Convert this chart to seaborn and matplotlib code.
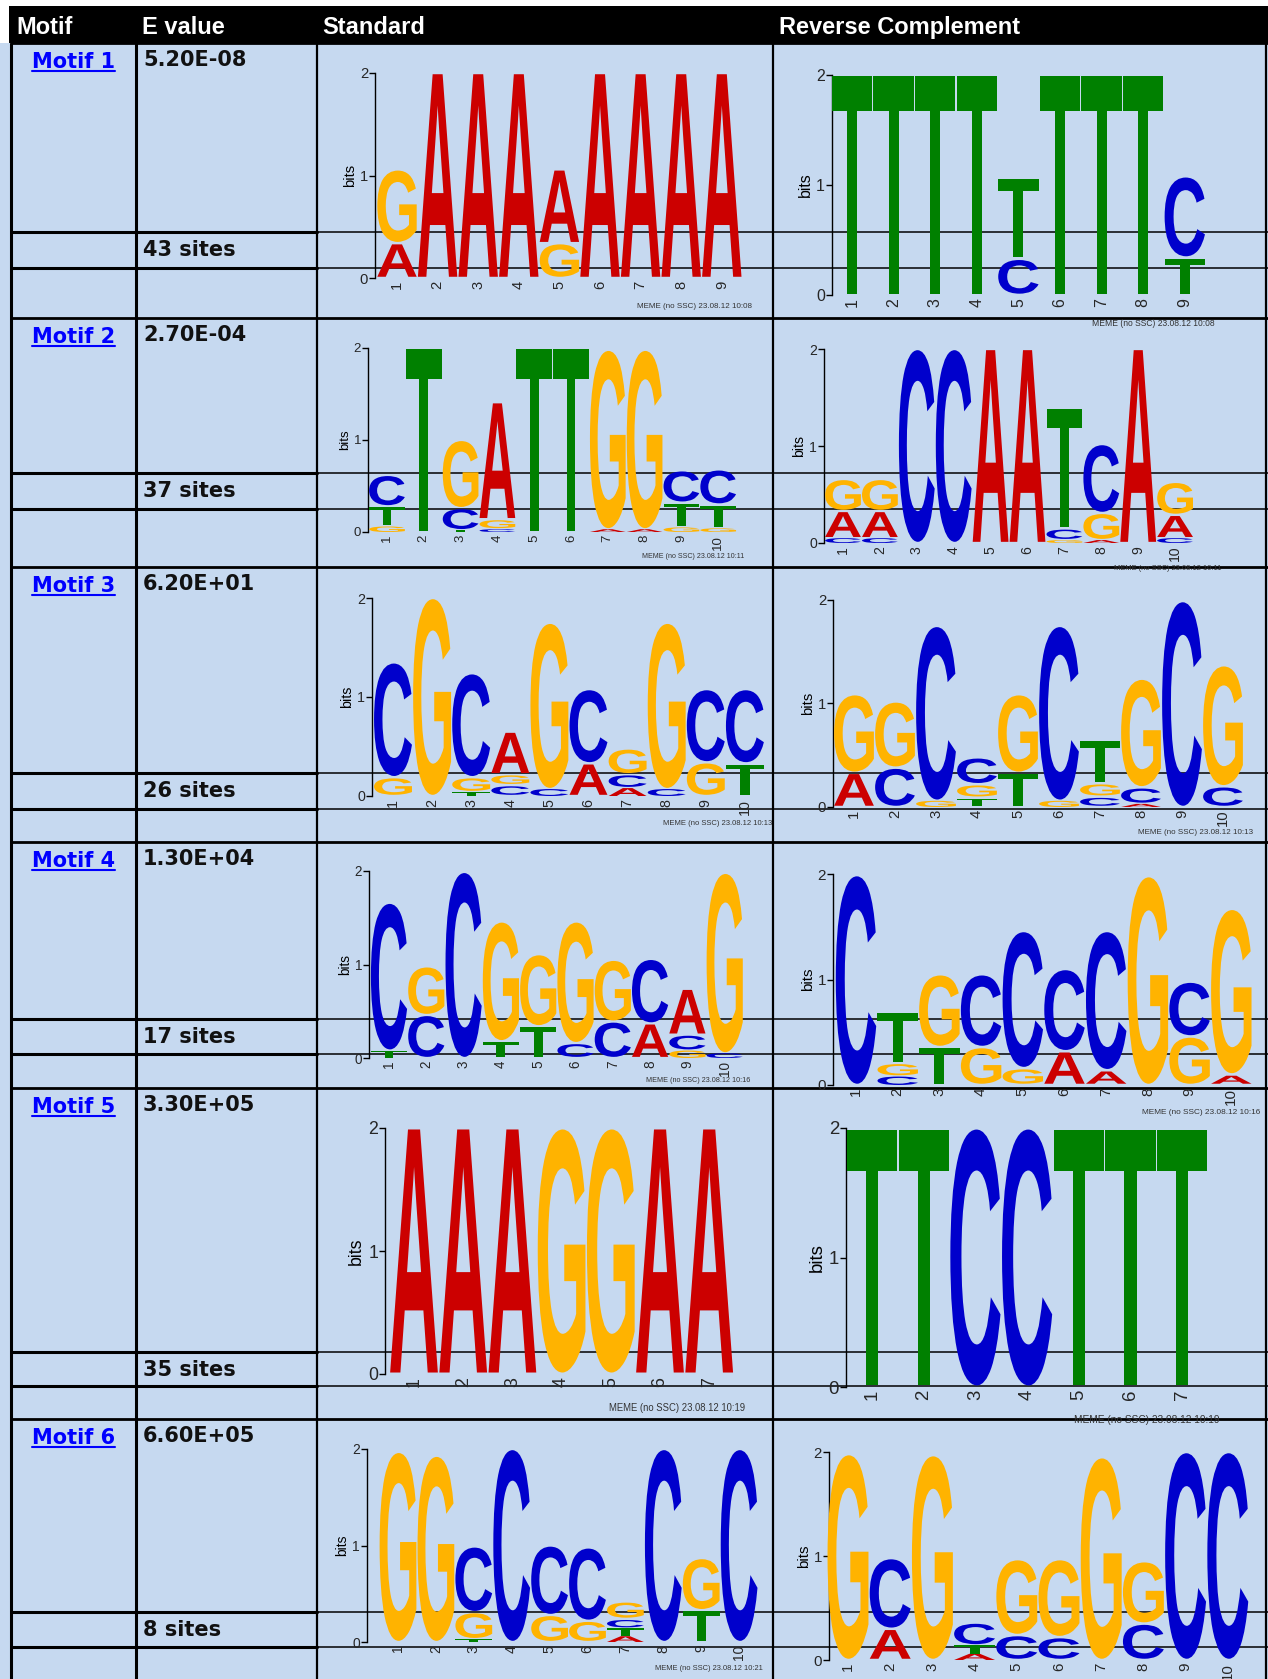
import matplotlib
matplotlib.use('Agg')
import numpy as np
import pandas as pd
import matplotlib.pyplot as plt
import seaborn as sns
import matplotlib.transforms as mtransforms
from matplotlib.textpath import TextPath
from matplotlib.patches import PathPatch, Rectangle
from matplotlib.font_manager import FontProperties

sns.set_theme(style='ticks')
plt.rcParams['font.family'] = ['Liberation Sans', 'DejaVu Sans']

# ---- table content ----
header_labels = ['Motif', 'E value', 'Standard', 'Reverse Complement']
motif_names = ['Motif 1', 'Motif 2', 'Motif 3', 'Motif 4', 'Motif 5', 'Motif 6']
e_values = ['5.20E-08', '2.70E-04', '6.20E+01', '1.30E+04', '3.30E+05', '6.60E+05']
site_counts = [43, 37, 26, 17, 35, 8]
run_times = ['10:08', '10:11', '10:13', '10:16', '10:19', '10:21']

# ---- logo stacks, bottom to top: (letter, bits) ----
m1_std = [[('A', .34), ('G', .72)], [('A', 2.0)], [('A', 2.0)], [('A', 2.0)],
          [('G', .34), ('A', .72)], [('A', 2.0)], [('A', 2.0)], [('A', 2.0)], [('A', 2.0)]]
m1_rc = [[('T', 2.0)], [('T', 2.0)], [('T', 2.0)], [('T', 2.0)], [('C', .33), ('T', .74)],
         [('T', 2.0)], [('T', 2.0)], [('T', 2.0)], [('T', .34), ('C', .74)]]

m2_std = [[('G', .06), ('T', .22), ('C', .34)], [('T', 2.0)], [('T', .02), ('C', .24), ('G', .74)],
          [('C', .03), ('G', .11), ('A', 1.27)], [('T', 2.0)], [('T', 2.0)],
          [('A', .03), ('G', 1.95)], [('A', .03), ('G', 1.95)],
          [('G', .05), ('T', .27), ('C', .35)], [('G', .04), ('T', .26), ('C', .38)]]
m2_rc = [[('C', .05), ('A', .28), ('G', .33)], [('C', .05), ('A', .28), ('G', .33)],
         [('C', 2.0)], [('C', 2.0)], [('A', 2.0)], [('A', 2.0)],
         [('G', .03), ('C', .12), ('T', 1.24)], [('A', .03), ('G', .28), ('C', .71)],
         [('A', 2.0)], [('C', .05), ('A', .24), ('G', .34)]]

m3_std = [[('G', .19), ('C', 1.16)], [('G', 2.0)], [('T', .04), ('G', .15), ('C', 1.05)],
          [('C', .11), ('G', .11), ('A', .43)], [('C', .07), ('G', 1.68)], [('A', .33), ('C', .75)],
          [('A', .08), ('C', .14), ('G', .26)], [('C', .07), ('G', 1.68)],
          [('G', .34), ('C', .74)], [('T', .33), ('C', .75)]]
m3_rc = [[('A', .33), ('G', .76)], [('C', .38), ('G', .64)], [('G', .06), ('C', 1.69)],
         [('T', .09), ('G', .13), ('C', .26)], [('T', .33), ('G', .76)], [('G', .06), ('C', 1.69)],
         [('C', .1), ('G', .13), ('T', .42)], [('A', .03), ('C', .16), ('G', 1.05)],
         [('C', 1.99)], [('C', .2), ('G', 1.17)]]

m4_std = [[('T', .08), ('C', 1.58)], [('C', .46), ('G', .52)], [('C', 1.99)],
          [('T', .18), ('G', 1.28)], [('T', .34), ('G', .77)], [('C', .16), ('G', 1.3)],
          [('C', .39), ('G', .66)], [('A', .37), ('C', .69)],
          [('G', .08), ('C', .17), ('A', .49)], [('C', .05), ('G', 1.93)]]
m4_rc = [[('C', 1.99)], [('C', .08), ('G', .13), ('T', .48)], [('T', .36), ('G', .69)],
         [('G', .36), ('C', .69)], [('G', .16), ('C', 1.3)], [('A', .32), ('C', .78)],
         [('A', .14), ('C', 1.32)], [('G', 1.98)], [('G', .46), ('C', .52)],
         [('A', .1), ('G', 1.57)]]

m5_std = [[('A', 2.0)], [('A', 2.0)], [('A', 2.0)], [('G', 2.0)], [('G', 2.0)], [('A', 2.0)], [('A', 2.0)]]
m5_rc = [[('T', 2.0)], [('T', 2.0)], [('C', 2.0)], [('C', 2.0)], [('T', 2.0)], [('T', 2.0)], [('T', 2.0)]]

m6_std = [[('G', 1.97)], [('G', 1.93)], [('T', .03), ('G', .28), ('C', .68)], [('C', 2.0)],
          [('G', .28), ('C', .72)], [('G', .22), ('C', .76)],
          [('A', .06), ('T', .08), ('C', .1), ('G', .18)], [('C', 2.0)],
          [('T', .33), ('G', .54)], [('C', 2.0)]]
m6_rc = [[('G', 1.98)], [('A', .3), ('C', .68)], [('G', 1.97)],
         [('A', .06), ('T', .08), ('C', .22)], [('C', .24), ('G', .73)], [('C', .22), ('G', .75)],
         [('G', 1.95)], [('C', .35), ('G', .6)], [('C', 2.0)], [('C', 2.0)]]

logos = [(m1_std, m1_rc), (m2_std, m2_rc), (m3_std, m3_rc),
         (m4_std, m4_rc), (m5_std, m5_rc), (m6_std, m6_rc)]

rows = []
for k, (std, rc) in enumerate(logos):
    for strand, stacks in (('std', std), ('rc', rc)):
        for pos, stack in enumerate(stacks, start=1):
            base = 0.0
            for letter, bits in stack:
                rows.append(dict(motif=k, strand=strand, position=pos,
                                 letter=letter, bits=bits, bottom=base))
                base += bits
letters = pd.DataFrame(rows)

# ---- layout (pixels) ----
W, H = 1268, 1679
col_x = [11, 136, 317, 773, 1266]
# top, sites-row top, empty-row top, bottom for each motif block
block_y = [(43, 232, 268, 318), (318, 473, 509, 567), (567, 773, 809, 842),
           (842, 1019, 1054, 1088), (1088, 1352, 1386, 1419), (1419, 1612, 1647, 1679)]
# y-axis x, first column centre, column spacing, y of 0 bits, y of 2 bits, MEME stamp x/y
std_layout = [(375, 397, 40.6, 278, 73, 752, 307), (368, 387, 36.8, 532, 348, 744, 557),
              (372, 393, 39.1, 796, 598, 772, 823), (369, 389, 37.3, 1058, 871, 750, 1081),
              (385, 414, 49.2, 1374, 1128, 745, 1408), (367, 398, 37.9, 1642, 1449, 763, 1669)]
rc_layout = [(832, 852, 41.6, 295, 75, 1215, 323), (824, 843, 36.9, 543, 349, 1221, 568),
             (833, 854, 41.0, 807, 600, 1253, 833), (833, 856, 41.7, 1085, 874, 1260, 1113),
             (846, 872, 51.7, 1387, 1128, 1220, 1420), (829, 848, 42.2, 1660, 1452, None, None)]

letter_colors = dict(zip('ACGT', sns.color_palette(['#CC0000', '#0000CC', '#FFB300', '#008000'])))
cell_blue = '#C6D9F0'

fig = plt.figure(figsize=(W / 100, H / 100), dpi=100)

# background table
bg = fig.add_axes([0, 0, 1, 1])
bg.set_xlim(0, W)
bg.set_ylim(H, 0)
bg.axis('off')
bg.add_patch(Rectangle((0, 43), W, H - 43, color=cell_blue, lw=0))
bg.add_patch(Rectangle((9, 6), W - 9, 37, color='black', lw=0))
for lab, x in zip(header_labels, [16, 142, 322, 779]):
    bg.text(x, 34, lab, color='white', fontsize=17, fontweight='bold',
            family='Liberation Sans', va='baseline', ha='left')

for x, lw in zip(col_x, [2.2, 2.2, 1.6, 1.6, 1.6]):
    bg.plot([x, x], [43, H], color='black', lw=lw, solid_capstyle='butt')

renderer = fig.canvas.get_renderer()
for k, (top, sites_top, empty_top, bottom) in enumerate(block_y):
    bg.plot([col_x[0], W], [top, top], color='black', lw=2.0)
    for y in (sites_top, empty_top):
        bg.plot([col_x[0], col_x[2]], [y, y], color='black', lw=2.2)
        bg.plot([col_x[2], W], [y, y], color='black', lw=1.1)
    link = bg.text((col_x[0] + col_x[1]) / 2, top + 25, motif_names[k], color='#0000FF',
                   fontsize=15, fontweight='bold', family='DejaVu Sans',
                   ha='center', va='baseline')
    half = link.get_window_extent(renderer).width / 2
    cx = (col_x[0] + col_x[1]) / 2
    bg.plot([cx - half, cx + half], [top + 28, top + 28], color='#0000FF', lw=1.5)
    bg.text(143, top + 23, e_values[k], fontsize=15, fontweight='bold',
            family='DejaVu Sans', color='#111111', va='baseline')
    bg.text(143, sites_top + 24, f'{site_counts[k]} sites', fontsize=15, fontweight='bold',
            family='DejaVu Sans', color='#111111', va='baseline')

# ---- sequence logos ----
glyph_font = FontProperties(family='Liberation Sans', weight='bold')
glyphs = {ch: TextPath((0, 0), ch, size=1, prop=glyph_font) for ch in 'ACGT'}


def draw_letter(ax, ch, x, bottom, height, width=0.97):
    path = glyphs[ch]
    ext = path.get_extents()
    gap = 0.012 if height > 0.08 else 0.0
    tr = (mtransforms.Affine2D()
          .translate(-ext.x0, -ext.y0)
          .scale(width / ext.width, (height - 2 * gap) / ext.height)
          .translate(x - width / 2, bottom + gap))
    ax.add_patch(PathPatch(tr.transform_path(path), fc=letter_colors[ch], ec='none',
                           clip_on=False, zorder=3))


for k in range(len(logos)):
    for strand, layout in (('std', std_layout[k]), ('rc', rc_layout[k])):
        ax_x, p1, sp, y0, y2, mx, my = layout
        sub = letters[(letters.motif == k) & (letters.strand == strand)]
        n = sub.position.max()
        right = p1 + (n - 0.5) * sp
        ax = fig.add_axes([ax_x / W, 1 - y0 / H, (right - ax_x) / W, (y0 - y2) / H])
        ax.set_facecolor('none')
        ax.set_xlim(1 - (p1 - ax_x) / sp, n + 0.5)
        ax.set_ylim(0, 2)
        for r in sub.itertuples():
            draw_letter(ax, r.letter, r.position, r.bottom, r.bits)
        fs = (y0 - y2) * 0.052
        ax.set_yticks([0, 1, 2])
        ax.set_xticks(range(1, n + 1))
        ax.set_xticklabels([str(i) for i in range(1, n + 1)], rotation=90)
        ax.tick_params(axis='y', length=4, width=1, color='black', labelsize=fs, pad=1)
        ax.tick_params(axis='x', length=0, labelsize=fs, pad=2)
        ax.set_ylabel('bits', fontsize=fs, labelpad=2, color='black')
        sns.despine(ax=ax, bottom=True)
        ax.spines['left'].set_color('black')
        ax.spines['left'].set_linewidth(1.0)
        ax.grid(False)
        if mx is not None:
            fig.text(mx / W, 1 - my / H, f'MEME (no SSC) 23.08.12 {run_times[k]}',
                     fontsize=(y0 - y2) * 0.028, color='#333333', ha='right', va='center')

fig.savefig('out.png', dpi=100)
